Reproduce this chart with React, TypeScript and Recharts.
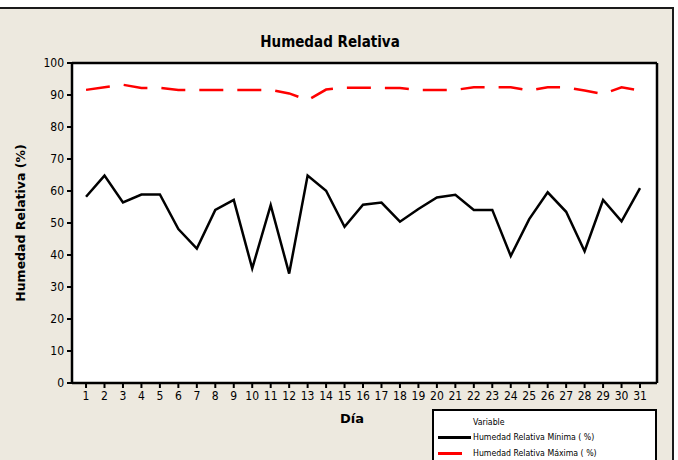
import React from "react";
import {
  CartesianGrid,
  Line,
  LineChart,
  ReferenceLine,
  XAxis,
  YAxis,
} from "recharts";

const days = [
  1, 2, 3, 4, 5, 6, 7, 8, 9, 10, 11, 12, 13, 14, 15, 16, 17, 18, 19, 20, 21,
  22, 23, 24, 25, 26, 27, 28, 29, 30, 31,
];
const minima = [
  58.2, 64.8, 56.4, 58.9, 58.9, 48.1, 42.0, 54.1, 57.2, 35.8, 55.6, 34.2, 64.8,
  60.1, 48.8, 55.7, 56.4, 50.4, 54.4, 58.0, 58.8, 54.1, 54.1, 39.7, 51.2, 59.6,
  53.5, 41.2, 57.2, 50.5, 60.9,
];
const maxima = [
  91.6, 92.4, 93.2, 92.2, 92.2, 91.6, 91.6, 91.6, 91.6, 91.6, 91.6, 90.5, 88.4,
  91.7, 92.3, 92.3, 92.2, 92.2, 91.6, 91.6, 91.6, 92.4, 92.4, 92.4, 91.4, 92.4,
  92.4, 91.4, 90.3, 92.4, 91.4,
];
const yTicks = [0, 10, 20, 30, 40, 50, 60, 70, 80, 90, 100];

const data = days.map((d, i) => ({ dia: d, min: minima[i], max: maxima[i] }));

const FONT = "'DejaVu Sans Condensed', 'DejaVu Sans', sans-serif";
const BG = "#EDE9DF";
const X_MIN = 0.24;
const X_MAX = 31.92;

export default function App() {
  return (
    <div
      style={{
        position: "absolute",
        left: 0,
        top: 0,
        width: 678,
        height: 460,
        background: "#fff",
        overflow: "hidden",
        fontFamily: FONT,
      }}
    >
      {/* outer panel */}
      <div
        style={{
          position: "absolute",
          left: -2,
          top: 7,
          width: 672,
          height: 470,
          background: BG,
          border: "2px solid #1a1a1a",
        }}
      />
      <div
        style={{
          position: "absolute",
          left: 0,
          top: 33,
          width: 660,
          textAlign: "center",
          fontSize: 15,
          fontWeight: "bold",
        }}
      >
        Humedad Relativa
      </div>
      <LineChart
        width={678}
        height={460}
        data={data}
        margin={{ top: 63, right: 21, bottom: 0, left: 0 }}
        style={{ position: "absolute", left: 0, top: 0 }}
      >
        <CartesianGrid
          horizontal={false}
          vertical={false}
          fill="#fff"
          fillOpacity={1}
        />
        <XAxis
          dataKey="dia"
          type="number"
          domain={[X_MIN, X_MAX]}
          ticks={days}
          interval={0}
          allowDataOverflow
          tickSize={5}
          tickMargin={3}
          axisLine={{ stroke: "#000", strokeWidth: 2.5 }}
          tickLine={{ stroke: "#000", strokeWidth: 2 }}
          tick={{ fontSize: 12, fill: "#000", fontFamily: FONT }}
          height={77}
        />
        <YAxis
          type="number"
          domain={[0, 100]}
          ticks={yTicks}
          interval={0}
          width={72}
          tickSize={5}
          tickMargin={3}
          axisLine={{ stroke: "#000", strokeWidth: 2.5 }}
          tickLine={{ stroke: "#000", strokeWidth: 2 }}
          tick={{ fontSize: 12, fill: "#000", fontFamily: FONT }}
        />
        <ReferenceLine y={100} stroke="#000" strokeWidth={2.5} />
        <ReferenceLine x={X_MAX} stroke="#000" strokeWidth={2.5} />
        <Line
          dataKey="min"
          stroke="#000"
          strokeWidth={2.5}
          dot={false}
          isAnimationActive={false}
        />
        <Line
          dataKey="max"
          stroke="#FF0000"
          strokeWidth={2.5}
          strokeDasharray="24 14"
          dot={false}
          isAnimationActive={false}
        />
      </LineChart>
      <div
        style={{
          position: "absolute",
          left: 20,
          top: 223,
          transform: "translate(-50%, -50%) rotate(-90deg)",
          whiteSpace: "nowrap",
          fontSize: 12.5,
          fontWeight: "bold",
          fontFamily: "'DejaVu Sans', sans-serif",
        }}
      >
        Humedad Relativa (%)
      </div>
      <div
        style={{
          position: "absolute",
          left: 352,
          top: 418,
          transform: "translate(-50%, -50%)",
          fontSize: 13,
          fontWeight: "bold",
          fontFamily: "'DejaVu Sans', sans-serif",
        }}
      >
        Día
      </div>
      {/* legend */}
      <div
        style={{
          position: "absolute",
          left: 432,
          top: 409,
          width: 221,
          height: 70,
          background: "#fff",
          border: "2px solid #000",
          fontSize: 8.7,
        }}
      >
        <div style={{ position: "absolute", left: 39, top: 6 }}>Variable</div>
        <div
          style={{
            position: "absolute",
            left: 4,
            top: 25,
            width: 33,
            height: 3,
            background: "#000",
          }}
        />
        <div style={{ position: "absolute", left: 39, top: 21 }}>
          Humedad Relativa Mínima ( %)
        </div>
        <div
          style={{
            position: "absolute",
            left: 4,
            top: 41,
            width: 24,
            height: 3,
            background: "#FF0000",
          }}
        />
        <div style={{ position: "absolute", left: 39, top: 37 }}>
          Humedad Relativa Máxima ( %)
        </div>
      </div>
    </div>
  );
}
